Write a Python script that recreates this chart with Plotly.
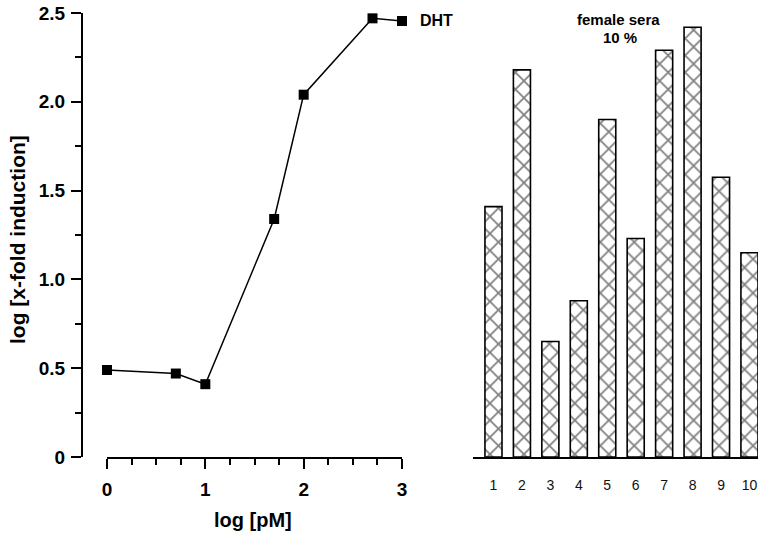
import plotly.graph_objects as go

# ---- data ----
x_log_pM = [0, 0.7, 1.0, 1.7, 2.0, 2.7, 3.0]
y_log_induction = [0.49, 0.47, 0.41, 1.34, 2.04, 2.47, 2.455]

sera_ids = [1, 2, 3, 4, 5, 6, 7, 8, 9, 10]
sera_labels = ["1", "2", "3", "4", "5", "6", "7", "8", "9", "10"]
sera_values = [1.41, 2.18, 0.65, 0.88, 1.90, 1.23, 2.29, 2.42, 1.575, 1.15]

y_tickvals = [0, 0.5, 1.0, 1.5, 2.0, 2.5]
y_ticktext = ["0", "0.5", "1.0", "1.5", "2.0", "2.5"]
x_tickvals = [0, 1, 2, 3]
x_ticktext = ["0", "1", "2", "3"]

W, H = 770, 534
FONT = "Liberation Sans"


def px(x):
    return x / W


def py(y):
    return 1 - y / H


fig = go.Figure()

fig.add_trace(go.Scatter(
    x=x_log_pM, y=y_log_induction, mode="lines+markers",
    line=dict(color="black", width=1.5),
    marker=dict(symbol="square", size=10, color="black"),
    cliponaxis=False, xaxis="x", yaxis="y", showlegend=False,
))

fig.add_trace(go.Bar(
    x=sera_ids, y=sera_values, width=0.6,
    marker=dict(
        color="white",
        line=dict(color="black", width=1.6),
        pattern=dict(shape="x", size=12, solidity=0.26,
                     fgcolor="black", bgcolor="white"),
    ),
    xaxis="x2", yaxis="y2", showlegend=False,
))

ydom = [py(457), py(13)]

fig.update_layout(
    width=W, height=H,
    margin=dict(l=0, r=0, t=0, b=0),
    paper_bgcolor="white", plot_bgcolor="white",
    font=dict(family=FONT, color="black"),
    xaxis=dict(
        domain=[px(107), px(402)], range=[0, 3], anchor="y",
        showline=True, linecolor="black", linewidth=2,
        ticks="outside", ticklen=10, tickwidth=2, tickcolor="black",
        tickvals=x_tickvals, ticktext=x_ticktext,
        tickfont=dict(family=FONT, size=19, weight="bold"), ticklabelstandoff=4,
        minor=dict(dtick=0.25, ticks="outside", ticklen=6, tickwidth=2, tickcolor="black"),
        showgrid=False, zeroline=False, automargin=False,
    ),
    yaxis=dict(
        domain=ydom, range=[0, 2.5], anchor="free", position=px(82),
        showline=True, linecolor="black", linewidth=2,
        ticks="outside", ticklen=10, tickwidth=2, tickcolor="black",
        tickvals=y_tickvals, ticktext=y_ticktext,
        tickfont=dict(family=FONT, size=19, weight="bold"), ticklabelstandoff=2,
        minor=dict(dtick=0.25, ticks="outside", ticklen=6, tickwidth=2, tickcolor="black"),
        showgrid=False, zeroline=False, automargin=False,
    ),
    xaxis2=dict(
        domain=[px(473), px(758)], range=[0.28, 10.3], anchor="y2",
        showline=True, linecolor="black", linewidth=2,
        ticks="", tickvals=sera_ids, ticktext=sera_labels,
        tickfont=dict(family=FONT, size=14, color="#111"), ticklabelstandoff=14,
        showgrid=False, zeroline=False, automargin=False,
    ),
    yaxis2=dict(
        domain=ydom, range=[0, 2.5], anchor="x2",
        visible=False, showgrid=False, zeroline=False,
    ),
    annotations=[
        dict(text="<b>log [x-fold induction]</b>", x=px(17), y=py(240),
             xref="paper", yref="paper", showarrow=False, textangle=-90,
             font=dict(family=FONT, size=21), xanchor="center", yanchor="middle"),
        dict(text="<b>log [pM]</b>", x=px(253), y=py(520),
             xref="paper", yref="paper", showarrow=False,
             font=dict(family=FONT, size=20), xanchor="center", yanchor="middle"),
        dict(text="<b>DHT</b>", x=px(418), y=py(21),
             xref="paper", yref="paper", showarrow=False,
             font=dict(family=FONT, size=16), xanchor="left", yanchor="middle"),
        dict(text="<b>female sera</b>", x=px(618), y=py(20),
             xref="paper", yref="paper", showarrow=False,
             font=dict(family=FONT, size=15), xanchor="center", yanchor="middle"),
        dict(text="<b>10 %</b>", x=px(620), y=py(38),
             xref="paper", yref="paper", showarrow=False,
             font=dict(family=FONT, size=15), xanchor="center", yanchor="middle"),
    ],
)

fig.write_html(
    "out.html",
    config={"displayModeBar": False},
    post_script="document.body.style.margin='0';document.body.style.overflow='hidden';",
)
